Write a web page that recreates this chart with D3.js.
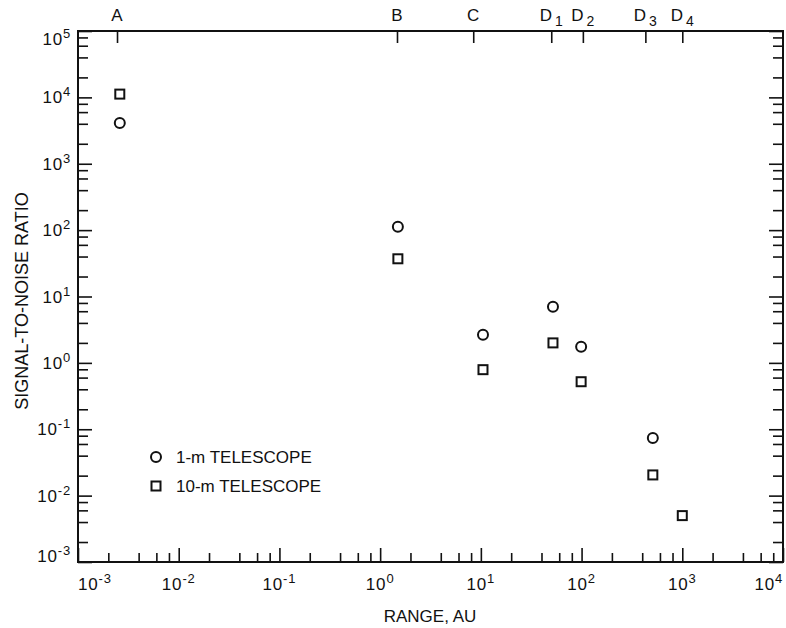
<!DOCTYPE html>
<html lang="en">
<head>
    <meta charset="UTF-8">
    <title>Signal-to-noise vs range</title>
    <script src="https://d3js.org/d3.v7.min.js"></script>
    <style>
        body{
            margin: 0;
            background-color: white;
        }
        text{
            font-family: "Liberation Sans", Arial, sans-serif;
            fill: #111;
        }
        .power{
            letter-spacing: 0.8px;
        }
        .frame{
            stroke: #111;
            stroke-width: 2px;
            fill: none;
        }
        .tick line{
            stroke: #111;
            stroke-width: 1.6px;
        }
        .domain{
            display: none;
        }
    </style>
</head>
<body>
<svg id="canvas" width="786" height="628"></svg>

<script>
    // top axis: target positions (AU) and their labels
    let topTickAU = [0.00244, 1.47, 8.4, 50, 103, 430, 1000];
    let topLabels = ["A", "B", "C", "D", "D", "D", "D"];
    let topSubs = ["", "", "", "1", "2", "3", "4"];

    // measured points, range in AU
    let rangeAU = [0.0026, 1.5, 10.5, 52, 99, 510, 1000];
    let snr1m = [4100, 112, 2.65, 7.0, 1.75, 0.074, null];
    let snr10m = [11200, 37, 0.79, 2.0, 0.52, 0.0205, 0.005];

    // axis tick labels (exponents of ten)
    let xExponents = [-3, -2, -1, 0, 1, 2, 3, 4];
    let yExponents = [-3, -2, -1, 0, 1, 2, 3, 4, 5];
    let minorSteps = [2, 4, 6, 8];

    let legendNames = ["1-m TELESCOPE", "10-m TELESCOPE"];

    let svg = d3.select('#canvas');
    let pLeft = 78, pRight = 783, pTop = 31, pBottom = 562;

    let xscale = d3.scaleLog().domain([1e-3, 1e4]).range([pLeft, pRight]);
    let yscale = d3.scaleLog().domain([1e-3, 1e5]).range([pBottom, pTop]);

    let xMajor = xExponents.map(function (e) { return Math.pow(10, e) });
    let yMajor = yExponents.map(function (e) { return Math.pow(10, e) });
    let xMinor = [], yMinor = [];
    xExponents.slice(0, -1).forEach(function (e) {
        minorSteps.forEach(function (m) { xMinor.push(m * Math.pow(10, e)) });
    });
    yExponents.slice(0, -1).forEach(function (e) {
        minorSteps.forEach(function (m) { yMinor.push(m * Math.pow(10, e)) });
    });

    // ticks point into the plot on every side
    svg.append("g").attr("transform", `translate(0,${pBottom})`)
        .call(d3.axisBottom(xscale).tickValues(xMajor).tickSize(-14).tickFormat(""));
    svg.append("g").attr("transform", `translate(0,${pBottom})`)
        .call(d3.axisBottom(xscale).tickValues(xMinor).tickSize(-9).tickFormat(""));
    svg.append("g").attr("transform", `translate(${pLeft},0)`)
        .call(d3.axisLeft(yscale).tickValues(yMajor).tickSize(-14).tickFormat(""));
    svg.append("g").attr("transform", `translate(${pLeft},0)`)
        .call(d3.axisLeft(yscale).tickValues(yMinor).tickSize(-10).tickFormat(""));
    svg.append("g").attr("transform", `translate(${pRight},0)`)
        .call(d3.axisRight(yscale).tickValues(yMajor).tickSize(-14).tickFormat(""));
    svg.append("g").attr("transform", `translate(${pRight},0)`)
        .call(d3.axisRight(yscale).tickValues(yMinor).tickSize(-10).tickFormat(""));
    svg.append("g").attr("transform", `translate(0,${pTop})`)
        .call(d3.axisTop(xscale).tickValues(topTickAU).tickSize(-12).tickFormat(""));

    svg.append("rect").attr("class", "frame")
        .attr("x", pLeft).attr("y", pTop)
        .attr("width", pRight - pLeft).attr("height", pBottom - pTop);

    // power-of-ten labels on x (end labels kept inside the frame width)
    let xLab = svg.append("g").selectAll("text")
        .data(xExponents)
        .enter()
        .append("text")
        .attr("class", "power")
        .attr("x", function (d) { return xscale(Math.pow(10, d)) })
        .attr("y", 590)
        .attr("text-anchor", function (d, i) {
            if (i === 0) return "start";
            if (i === xExponents.length - 1) return "end";
            return "middle"
        })
        .style("font-size", "17px");
    xLab.append("tspan").text("10");
    xLab.append("tspan").attr("dy", -7).style("font-size", "13px").text(function (d) { return d });

    // power-of-ten labels on y
    let yLab = svg.append("g").selectAll("text")
        .data(yExponents)
        .enter()
        .append("text")
        .attr("class", "power")
        .attr("x", 71)
        .attr("y", function (d, i) {
            let off = 6;
            if (i === yExponents.length - 1) off = 14;
            if (i === 0) off = 0;
            return yscale(Math.pow(10, d)) + off
        })
        .attr("text-anchor", "end")
        .style("font-size", "17px");
    yLab.append("tspan").text("10");
    yLab.append("tspan").attr("dy", -7).style("font-size", "13px").text(function (d) { return d });

    // target letters along the top
    let tLab = svg.append("g").selectAll("text")
        .data(topLabels)
        .enter()
        .append("text")
        .attr("x", function (d, i) { return xscale(topTickAU[i]) })
        .attr("y", 21)
        .attr("text-anchor", "middle")
        .style("font-size", "17px");
    tLab.append("tspan").text(function (d) { return d });
    tLab.append("tspan").attr("dx", 3).attr("dy", 5).style("font-size", "14px")
        .text(function (d, i) { return topSubs[i] });

    // axis titles
    svg.append("text")
        .attr("x", 430).attr("y", 622)
        .attr("text-anchor", "middle")
        .style("font-size", "17px")
        .text("RANGE, AU");
    svg.append("text")
        .attr("transform", "translate(28,301) rotate(-90)")
        .attr("text-anchor", "middle")
        .style("font-size", "18px")
        .text("SIGNAL-TO-NOISE RATIO");

    // markers
    let pts1 = rangeAU.map(function (r, i) { return {x: r, y: snr1m[i]} })
        .filter(function (d) { return d.y != null });
    let pts10 = rangeAU.map(function (r, i) { return {x: r, y: snr10m[i]} })
        .filter(function (d) { return d.y != null });

    svg.append("g").selectAll("circle")
        .data(pts1)
        .enter()
        .append("circle")
        .attr("cx", function (d) { return xscale(d.x) })
        .attr("cy", function (d) { return yscale(d.y) })
        .attr("r", 5)
        .attr("fill", "white")
        .attr("stroke", "#111")
        .attr("stroke-width", 2);

    svg.append("g").selectAll("rect")
        .data(pts10)
        .enter()
        .append("rect")
        .attr("x", function (d) { return xscale(d.x) - 4.5 })
        .attr("y", function (d) { return yscale(d.y) - 4.5 })
        .attr("width", 9).attr("height", 9)
        .attr("fill", "white")
        .attr("stroke", "#111")
        .attr("stroke-width", 2);

    // legend
    let legend = svg.append("g").attr("transform", "translate(156,457)");
    legend.append("circle").attr("cx", 0).attr("cy", 0).attr("r", 5)
        .attr("fill", "white").attr("stroke", "#111").attr("stroke-width", 2);
    legend.append("rect").attr("x", -4.5).attr("y", 24.5).attr("width", 9).attr("height", 9)
        .attr("fill", "white").attr("stroke", "#111").attr("stroke-width", 2);
    legend.selectAll("text")
        .data(legendNames)
        .enter()
        .append("text")
        .attr("x", 20)
        .attr("y", function (d, i) { return 6 + i * 29 })
        .style("font-size", "17px")
        .text(function (d) { return d });
</script>
</body>
</html>
